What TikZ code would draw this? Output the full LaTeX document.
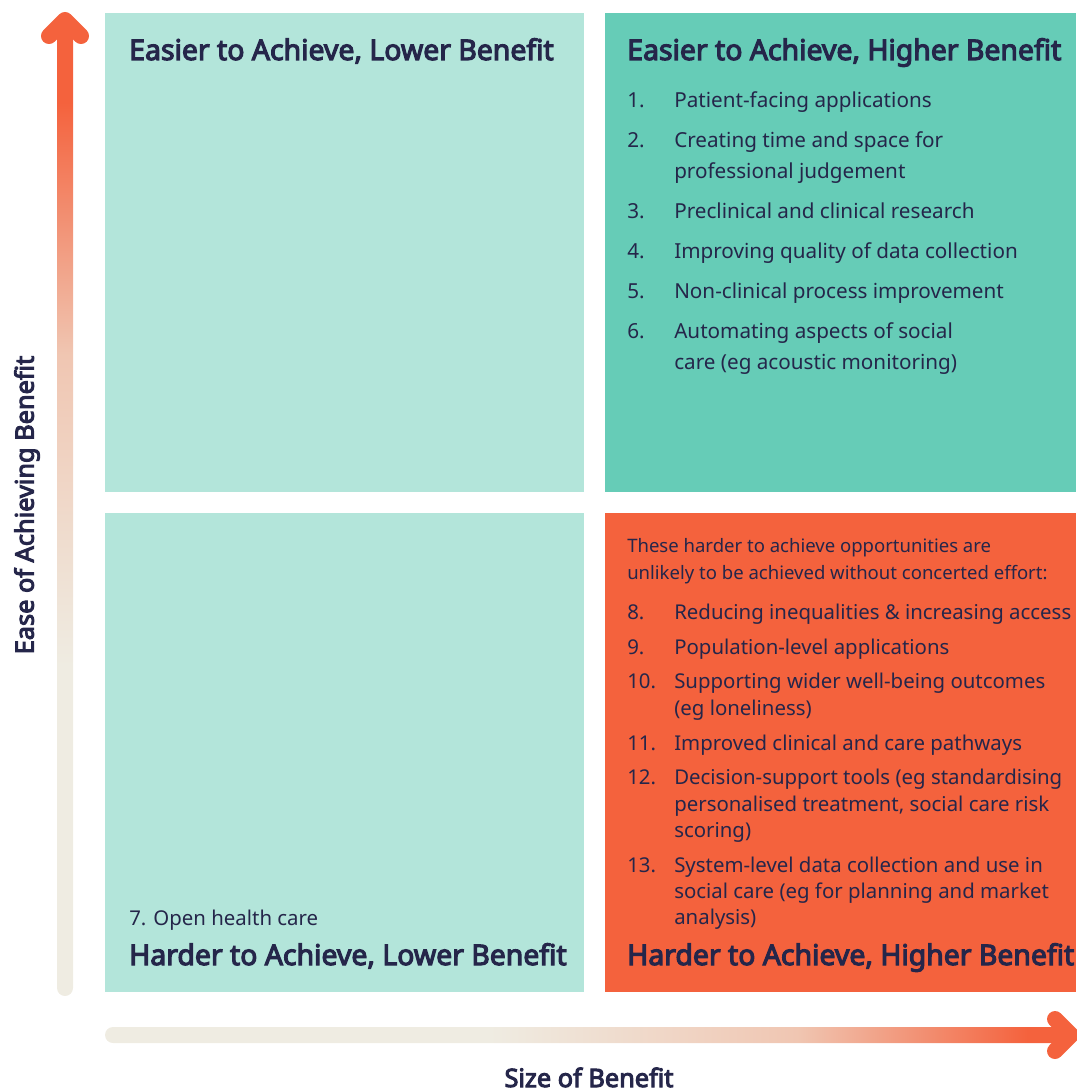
\documentclass[tikz,border=0pt]{standalone}
\usepackage{fontspec}
\setmainfont{Noto Sans}[AutoFakeBold=4]
\definecolor{lteal}{HTML}{B3E5DA}
\definecolor{dteal}{HTML}{66CCB7}
\definecolor{orng}{HTML}{F4623D}
\definecolor{cream}{HTML}{EFECE2}
\definecolor{midpink}{HTML}{F0C6B2}
\definecolor{navy}{HTML}{25264A}
\pgfdeclareverticalshading{vgrad}{100bp}{color(0bp)=(cream); color(42bp)=(cream); color(58bp)=(midpink); color(71bp)=(orng); color(100bp)=(orng)}
\pgfdeclarehorizontalshading{hgrad}{100bp}{color(0bp)=(cream); color(45bp)=(cream); color(61bp)=(midpink); color(73bp)=(orng); color(100bp)=(orng)}
\tikzset{
  ttl/.style={inner sep=0pt, anchor=base west, text=navy, font=\bfseries\fontsize{21.3}{24}\selectfont},
  itm/.style={inner sep=0pt, anchor=base west, text=navy, font=\fontsize{15.5}{18}\selectfont},
  itmb/.style={inner sep=0pt, anchor=base west, text=navy, font=\fontsize{15.3}{18}\selectfont},
  intro/.style={inner sep=0pt, anchor=base west, text=navy, font=\fontsize{13.9}{16}\selectfont},
  axl/.style={inner sep=0pt, text=navy, font=\bfseries\fontsize{19}{22}\selectfont},
  head/.style={draw=orng, line width=12pt, line cap=round, line join=round}
}
\begin{document}
\begin{tikzpicture}[x=0.75pt,y=-0.75pt]
\useasboundingbox (0,0) rectangle (1076,1088);
% quadrants
\fill[lteal] (105,13) rectangle (584,492);
\fill[dteal] (605,13) rectangle (1076,492);
\fill[lteal] (105,513) rectangle (584,992);
\fill[orng] (605,513) rectangle (1076,992);
% axes
\shade[shading=vgrad, rounded corners=6pt] (57,25) rectangle (73,996);
\draw[head] (49,36) -- (65,20) -- (81,36);
\shade[shading=hgrad, rounded corners=6pt] (105,1027) rectangle (1066,1043);
\draw[head] (1055,1019) -- (1071,1035) -- (1055,1051);
\node[axl, rotate=90] (ylab) at (27,505) {Ease of Achieving Benefit};
\node[axl, anchor=base] (xlab) at (589,1087) {Size of Benefit};
% top left
\node[ttl] (tl) at (129,60) {Easier to Achieve, Lower Benefit};
% top right
\node[ttl] (tr) at (627,60) {Easier to Achieve, Higher Benefit};
\node[itm] (n1) at (627,108) {1.};  \node[itm] (t1) at (674,108) {Patient-facing applications};
\node[itm] (n2) at (627,147) {2.};  \node[itm] (t2) at (674,147) {Creating time and space for};
\node[itm] (t2b) at (674,178) {professional judgement};
\node[itm] (n3) at (627,218) {3.};  \node[itm] (t3) at (674,218) {Preclinical and clinical research};
\node[itm] (n4) at (627,258) {4.};  \node[itm] (t4) at (674,258) {Improving quality of data collection};
\node[itm] (n5) at (627,298) {5.};  \node[itm] (t5) at (674,298) {Non-clinical process improvement};
\node[itm] (n6) at (627,338) {6.};  \node[itm] (t6) at (674,338) {Automating aspects of social};
\node[itm] (t6b) at (674,369) {care (eg acoustic monitoring)};
% bottom left
\node[itmb] (n7) at (129,925) {7. Open health care};
\node[ttl] (bl) at (129,965) {Harder to Achieve, Lower Benefit};
% bottom right
\node[intro] (i1) at (627,552) {These harder to achieve opportunities are};
\node[intro] (i2) at (627,579) {unlikely to be achieved without concerted effort:};
\node[itmb] (n8) at (627,619) {8.};  \node[itmb] (t8) at (674,619) {Reducing inequalities \& increasing access};
\node[itmb] (n9) at (627,654) {9.};  \node[itmb] (t9) at (674,654) {Population-level applications};
\node[itmb] (n10) at (627,688) {10.}; \node[itmb] (t10) at (674,688) {Supporting wider well-being outcomes};
\node[itmb] (t10b) at (674,715) {(eg loneliness)};
\node[itmb] (n11) at (627,750) {11.}; \node[itmb] (t11) at (674,750) {Improved clinical and care pathways};
\node[itmb] (n12) at (627,784) {12.}; \node[itmb] (t12) at (674,784) {Decision-support tools (eg standardising};
\node[itmb] (t12b) at (674,811) {personalised treatment, social care risk};
\node[itmb] (t12c) at (674,837) {scoring)};
\node[itmb] (n13) at (627,872) {13.}; \node[itmb] (t13) at (674,872) {System-level data collection and use in};
\node[itmb] (t13b) at (674,898) {social care (eg for planning and market};
\node[itmb] (t13c) at (674,924) {analysis)};
\node[ttl] (br) at (627,965) {Harder to Achieve, Higher Benefit};
\end{tikzpicture}
\end{document}
